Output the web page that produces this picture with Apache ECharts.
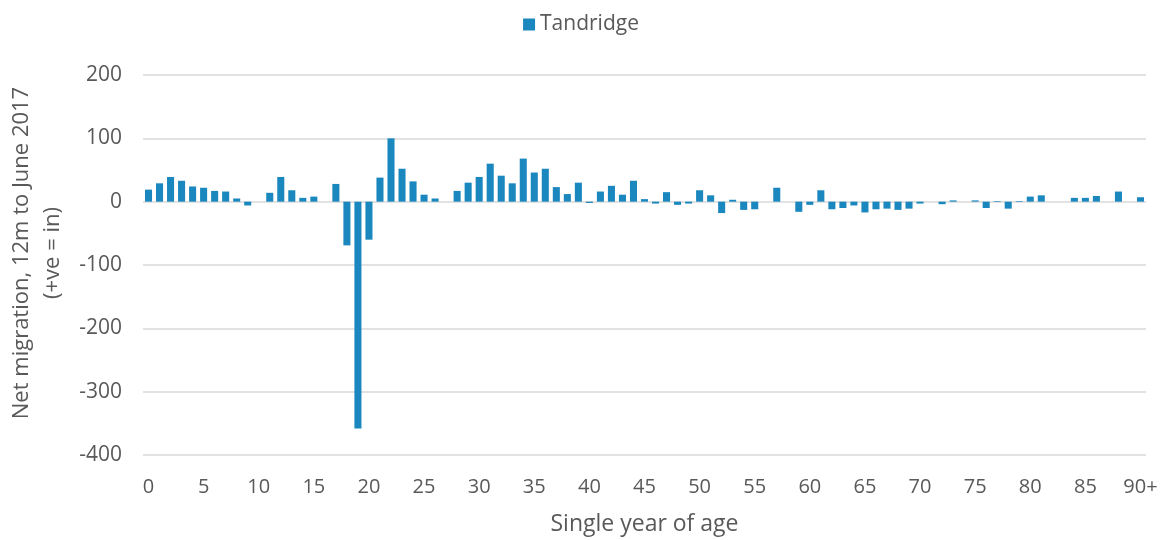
<!DOCTYPE html>
<html>
<head>
<meta charset="utf-8">
<script src="https://cdn.jsdelivr.net/npm/echarts@6/dist/echarts.min.js"></script>
<style>
  html, body { margin: 0; padding: 0; background: #fff; }
  #main { width: 1162px; height: 540px; }
</style>
</head>
<body>
<div id="main"></div>
<script>
// ages 0..89 plus 90+
var ages = [];
for (var a = 0; a < 90; a++) ages.push(String(a));
ages.push('90+');

// net migration by single year of age
var tandridge = [
  19, 29, 39, 33, 24, 22, 17, 16, 5, -6,
  0, 14, 39, 18, 6, 8, 0, 28, -69, -358,
  -60, 38, 100, 52, 32, 11, 5, 0, 17, 30,
  39, 60, 41, 29, 68, 46, 52, 23, 12, 30,
  -2, 16, 25, 11, 33, 4, -3, 15, -5, -3,
  18, 10, -18, 3, -13, -12, 0, 22, 0, -16,
  -5, 18, -12, -10, -6, -17, -12, -11, -13, -11,
  -3, 0, -4, 2, 0, 2, -10, 1, -11, 1,
  8, 10, 0, 0, 6, 6, 9, 0, 16, 0,
  7
];

var yTicks = { min: -400, max: 200, step: 100 };

var txt = '#595959';
var font = 'Open Sans';

var myChart = echarts.init(document.getElementById('main'));
var option = {
  animation: false,
  textStyle: { fontFamily: font, color: txt },
  legend: {
    top: 9,
    left: 'center',
    itemWidth: 12,
    itemHeight: 12,
    itemGap: 6,
    icon: 'rect',
    textStyle: { fontSize: 21, color: txt, fontFamily: font },
    data: ['Tandridge']
  },
  grid: { left: 143, right: 16, top: 75, bottom: 85, outerBoundsMode: 'none' },
  xAxis: {
    type: 'category',
    data: ages,
    position: 'bottom',
    axisLine: { show: false, onZero: false },
    axisTick: { show: false },
    axisLabel: {
      interval: 4,
      margin: 22,
      fontSize: 20,
      color: txt,
      fontFamily: font
    },
    name: 'Single year of age',
    nameLocation: 'middle',
    nameGap: 58,
    nameTextStyle: { fontSize: 23, color: txt, fontFamily: font }
  },
  yAxis: {
    type: 'value',
    min: yTicks.min,
    max: yTicks.max,
    interval: yTicks.step,
    axisLine: { show: false },
    axisTick: { show: false },
    axisLabel: { fontSize: 21, color: txt, margin: 21, fontFamily: font },
    splitLine: { lineStyle: { color: '#d9d9d9', width: 1.5 } },
    name: 'Net migration, 12m to June 2017\n(+ve = in)',
    nameLocation: 'middle',
    nameRotate: 90,
    nameGap: 73,
    nameTextStyle: {
      fontSize: 22, color: txt, fontFamily: font, lineHeight: 31,
      padding: [0, 0, 0, 24]
    }
  },
  series: [{
    name: 'Tandridge',
    type: 'bar',
    data: tandridge,
    barCategoryGap: '36%',
    itemStyle: { color: '#1a87be' }
  }]
};
myChart.setOption(option);
</script>
</body>
</html>
